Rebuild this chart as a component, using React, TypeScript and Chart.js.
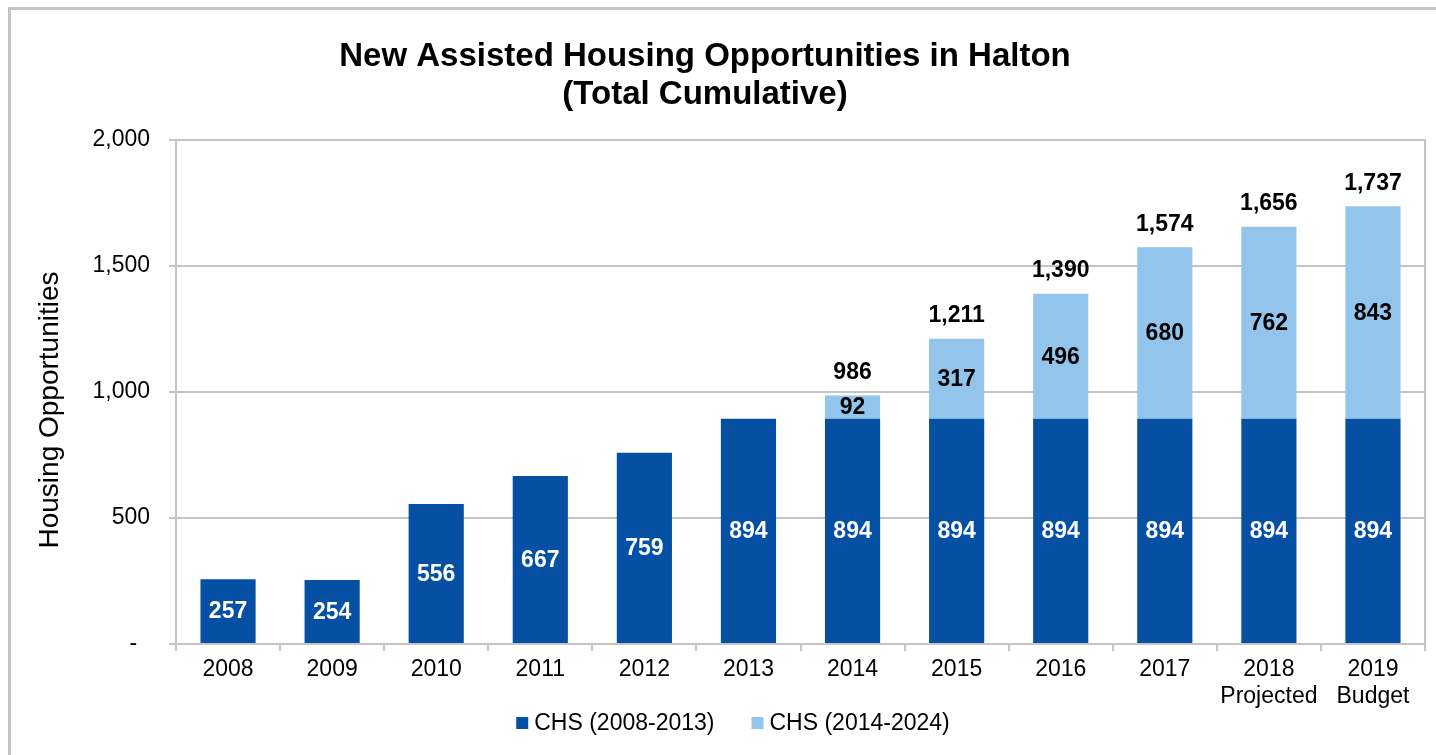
import React, { useEffect, useRef } from 'react';
import { Chart, registerables } from 'chart.js';

Chart.register(...registerables);

// ---- data ----
const CATEGORIES: (string | string[])[] = [
  '2008', '2009', '2010', '2011', '2012', '2013', '2014', '2015', '2016', '2017',
  ['2018', 'Projected'], ['2019', 'Budget'],
];
const SERIES_NAMES = ['CHS (2008-2013)', 'CHS (2014-2024)'];
const CHS_2008_2013 = [257, 254, 556, 667, 759, 894, 894, 894, 894, 894, 894, 894];
const CHS_2014_2024: (number | null)[] = [null, null, null, null, null, null, 92, 317, 496, 680, 762, 843];
const TITLE_LINES = ['New Assisted Housing Opportunities in Halton', '(Total Cumulative)'];
const Y_TITLE = 'Housing Opportunities';
const Y_MIN = 0;
const Y_MAX = 2000;
const Y_STEP = 500;

// ---- styles ----
const FONT = '"Liberation Sans", Arial, Helvetica, sans-serif';
const DARK = '#0550A3';
const LIGHT = '#93C5EC';
const GRID = '#C4C4C4';
const TITLE_X = 694;
const TITLE_Y = [47, 85];
const Y_TITLE_POS = { x: 39, y: 400 };
const LEGEND_CENTER = { x: 722, y: 713 };
const LEGEND_BOX = 12;
const LEGEND_BOX_GAP = 6;
const LEGEND_ITEM_GAP = 37;

const fmt = (v: number) => v.toLocaleString('en-US');

const decorPlugin = {
  id: 'decor',
  afterDraw(chart: any) {
    const ctx = chart.ctx;
    ctx.save();
    ctx.fillStyle = '#000';
    ctx.textBaseline = 'middle';
    // title
    ctx.font = `bold 33px ${FONT}`;
    ctx.textAlign = 'center';
    TITLE_LINES.forEach((t, i) => ctx.fillText(t, TITLE_X, TITLE_Y[i]));
    // y axis title
    ctx.save();
    ctx.font = `28px ${FONT}`;
    ctx.translate(Y_TITLE_POS.x, Y_TITLE_POS.y);
    ctx.rotate(-Math.PI / 2);
    ctx.fillText(Y_TITLE, 0, 0);
    ctx.restore();
    // legend
    ctx.font = `23px ${FONT}`;
    ctx.textAlign = 'left';
    const items = chart.data.datasets.map((ds: any) => ({
      text: ds.label,
      color: ds.backgroundColor,
      w: LEGEND_BOX + LEGEND_BOX_GAP + ctx.measureText(ds.label).width,
    }));
    const total = items.reduce((a: number, it: any) => a + it.w, 0) + LEGEND_ITEM_GAP * (items.length - 1);
    let x = LEGEND_CENTER.x - total / 2;
    items.forEach((it: any) => {
      ctx.fillStyle = it.color;
      ctx.fillRect(x, LEGEND_CENTER.y - LEGEND_BOX / 2, LEGEND_BOX, LEGEND_BOX);
      ctx.fillStyle = '#000';
      ctx.fillText(it.text, x + LEGEND_BOX + LEGEND_BOX_GAP, LEGEND_CENTER.y + 1);
      x += it.w + LEGEND_ITEM_GAP;
    });
    ctx.restore();
  },
};

const labelsPlugin = {
  id: 'barLabels',
  afterDatasetsDraw(chart: any) {
    const ctx = chart.ctx;
    ctx.save();
    ctx.font = `bold 23px ${FONT}`;
    ctx.textAlign = 'center';
    ctx.textBaseline = 'middle';
    chart.data.datasets.forEach((ds: any, di: number) => {
      const meta = chart.getDatasetMeta(di);
      meta.data.forEach((el: any, i: number) => {
        const v = ds.data[i];
        if (v == null || v === 0) return;
        const { x, y, base } = el.getProps(['x', 'y', 'base'], true);
        ctx.fillStyle = di === 0 ? '#FFFFFF' : '#000000';
        ctx.fillText(fmt(v), x, (y + base) / 2 + 1);
      });
    });
    const topMeta = chart.getDatasetMeta(1);
    topMeta.data.forEach((el: any, i: number) => {
      const v = CHS_2014_2024[i];
      if (v == null) return;
      const total = CHS_2008_2013[i] + v;
      ctx.fillStyle = '#000000';
      ctx.fillText(fmt(total), el.x, el.y - 23);
    });
    ctx.restore();
  },
};

export default function App() {
  const ref = useRef<HTMLCanvasElement | null>(null);

  useEffect(() => {
    if (!ref.current) return;
    Chart.defaults.font.family = FONT;
    Chart.defaults.color = '#000';
    const chart = new Chart(ref.current, {
      type: 'bar',
      data: {
        labels: CATEGORIES as any,
        datasets: [
          {
            label: SERIES_NAMES[0],
            data: CHS_2008_2013,
            backgroundColor: DARK,
            borderWidth: 0,
            categoryPercentage: 1,
            barPercentage: 0.53,
          },
          {
            label: SERIES_NAMES[1],
            data: CHS_2014_2024 as any,
            backgroundColor: LIGHT,
            borderWidth: 0,
            categoryPercentage: 1,
            barPercentage: 0.53,
          },
        ],
      },
      options: {
        responsive: false,
        animation: false,
        layout: { padding: { top: 130, left: 30, right: 30, bottom: 11 } },
        plugins: {
          title: { display: false },
          tooltip: { enabled: false },
          legend: { display: false },
        },
        scales: {
          x: {
            stacked: true,
            grid: {
              offset: true,
              drawOnChartArea: false,
              tickLength: 7,
              color: GRID,
              lineWidth: 2,
            },
            border: { display: true, color: GRID, width: 2 },
            ticks: {
              color: '#000',
              padding: 5,
              maxRotation: 0,
              autoSkip: false,
              font: { size: 23, family: FONT, lineHeight: 1.18 },
            },
            afterFit: (s: any) => { s.height = 100; },
          },
          y: {
            stacked: true,
            min: Y_MIN,
            max: Y_MAX,
            grid: { color: GRID, lineWidth: 2, tickLength: 7 },
            border: { display: true, color: GRID, width: 2 },
            ticks: {
              stepSize: Y_STEP,
              color: '#000',
              padding: 19,
              font: { size: 23, family: FONT },
              callback: (v: any) => (Number(v) === 0 ? '-  ' : fmt(Number(v))),
            },
            title: { display: false },
            afterFit: (s: any) => { s.width = 135; },
          },
          y2: {
            position: 'right',
            display: true,
            grid: { display: false, drawTicks: false },
            ticks: { display: false },
            border: { display: true, color: GRID, width: 2 },
            afterFit: (s: any) => { s.width = 0; },
          },
        },
      } as any,
      plugins: [labelsPlugin, decorPlugin],
    });
    return () => chart.destroy();
  }, []);

  return (
    <div
      style={{
        position: 'fixed',
        left: 8,
        top: 7,
        width: 1500,
        height: 800,
        borderTop: '3px solid #C4C4C4',
        borderLeft: '3px solid #C4C4C4',
        background: '#fff',
        overflow: 'hidden',
      }}
    >
      <canvas ref={ref} width={1444} height={745} style={{ display: 'block' }} />
    </div>
  );
}
